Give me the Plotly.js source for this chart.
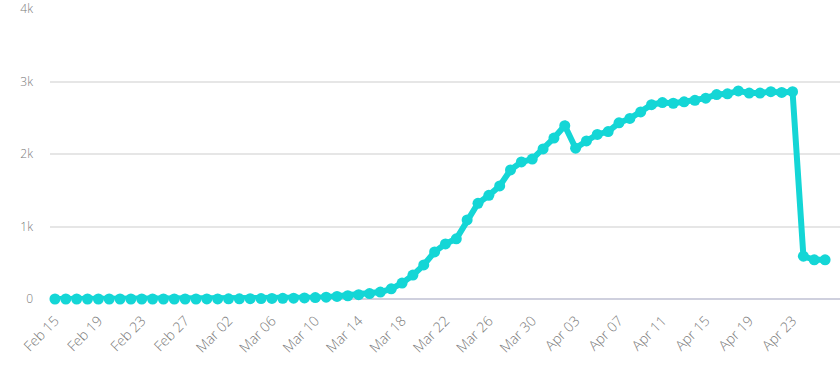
<!DOCTYPE html>
<html>
<head>
<meta charset="utf-8">
<script src="https://cdn.plot.ly/plotly-3.0.1.min.js"></script>
<style>html,body{margin:0;padding:0;background:#fff;}#chart{width:840px;height:367px;}</style>
</head>
<body>
<div id="chart"></div>
<script>
// Daily dates from 2020-02-15 to 2020-04-26
const startDate = "2020-02-15";
const dayCount = 72;
const values = [
  // Feb 15 - Feb 29
  0, 0, 0, 0, 0, 0, 0, 0, 0, 0, 0, 0, 0, 0, 1,
  // Mar 01 - Mar 31
  1, 2, 3, 4, 6, 8, 10, 12, 15, 20, 25, 35, 45, 60, 75, 95, 140, 220, 330, 470,
  650, 760, 830, 1090, 1320, 1430, 1560, 1780, 1890, 1930, 2070,
  // Apr 01 - Apr 26
  2220, 2390, 2080, 2180, 2270, 2310, 2430, 2490, 2580, 2680, 2710, 2700, 2720,
  2740, 2770, 2820, 2830, 2870, 2840, 2840, 2860, 2850, 2860, 590, 540, 540
];
const yTickVals = [0, 1000, 2000, 3000, 4000];
const yTickText = ["0", "1k", "2k", "3k", "4k"];

const dates = [];
const d0 = new Date(startDate + "T00:00:00Z");
for (let i = 0; i < dayCount; i++) {
  const d = new Date(d0.getTime() + i * 86400000);
  dates.push(d.toISOString().slice(0, 10));
}

const color = "#14d6d6";
const trace = {
  x: dates, y: values, type: "scatter", mode: "lines+markers",
  line: {color: color, width: 6},
  marker: {color: color, size: 11},
  cliponaxis: false, hoverinfo: "x+y"
};

const layout = {
  width: 840, height: 367,
  margin: {l: 50, r: 0, t: 9, b: 68},
  paper_bgcolor: "#fff", plot_bgcolor: "#fff",
  showlegend: false,
  font: {family: "Open Sans, sans-serif", color: "#888", size: 12},
  xaxis: {
    type: "date",
    range: ["2020-02-14T13:00:00", "2020-04-27T09:00:00"],
    tick0: "2020-02-15", dtick: 4 * 86400000,
    tickformat: "%b %d", tickangle: -45,
    showgrid: false, zeroline: false, showline: false,
    ticks: "", ticklabelstandoff: 10,
    tickfont: {size: 14, color: "#7a7a7a", weight: 300}
  },
  yaxis: {
    range: [0, 4000],
    tickvals: yTickVals, ticktext: yTickText,
    showgrid: true, gridcolor: "#e6e6e6", gridwidth: 2,
    zeroline: true, zerolinecolor: "#cfd0de", zerolinewidth: 2,
    showline: false, ticks: "", ticklabelstandoff: 16,
    tickfont: {size: 12, color: "#7a7a7a", weight: 300}
  }
};

Plotly.newPlot("chart", [trace], layout, {displayModeBar: false, staticPlot: true});
</script>
</body>
</html>
